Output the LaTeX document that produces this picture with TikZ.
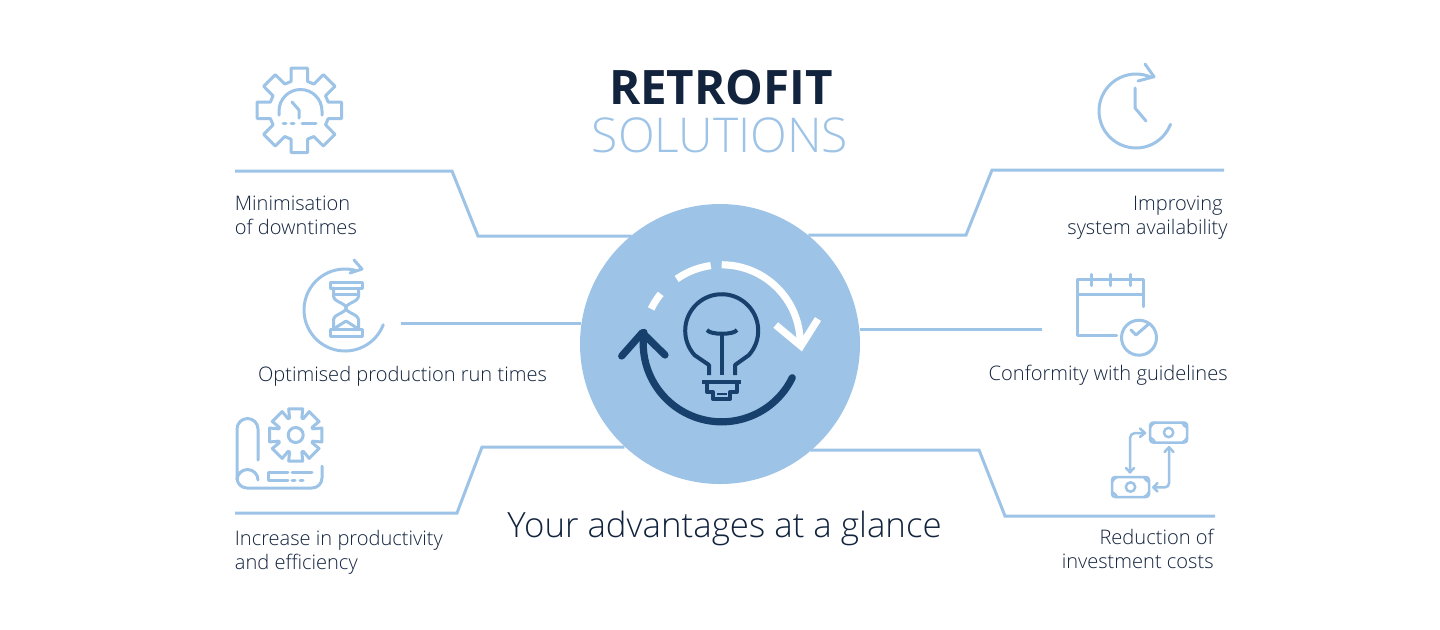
\documentclass[tikz,border=0pt]{standalone}
\usepackage{fontspec}
\setmainfont{Open Sans}
\newfontfamily\lightfont{Open Sans Light}
\usetikzlibrary{positioning,calc}
\definecolor{skyline}{HTML}{9DC3E6}
\definecolor{navyline}{HTML}{17406D}
\definecolor{inktext}{HTML}{12233D}
\tikzstyle{Hub} = [circle, fill=skyline, minimum size=140pt, inner sep=0pt]
\tikzstyle{Link} = [draw=skyline, line width=1.5pt]
\tikzstyle{Icon} = [draw=skyline, line width=1.5pt, line cap=round, line join=round]
\tikzstyle{Note} = [Icon, line width=1.25pt]
\tikzstyle{Bulb} = [draw=navyline, line width=2pt, line join=round]
\tikzstyle{Cycle} = [line width=3.6pt, line join=round]
\tikzstyle{Label} = [font=\lightfont\fontsize{10.03}{12}\selectfont, text=inktext, inner sep=0pt]
\newcommand{\gearicon}[6]{% centre x, y, outer, root, tip angle, root angle
  \draw[Icon, shift={(#1,#2)}] (-#6:#4) foreach \a in {0,45,...,315} {
      -- (\a-#6:#4) -- (\a-#5:#3) -- (\a+#5:#3) -- (\a+#6:#4)
    } -- cycle;
}
\newcommand{\billicon}[2]{% centre x, y
  \draw[Note, rounded corners=1.5pt] (#1-18.5,#2-10) rectangle (#1+18.5,#2+10);
  \draw[Note] (#1,#2) circle (4.7);
  \foreach \sx/\sy in {-1/-1,1/-1,1/1,-1/1}
    \draw[Note] (#1+\sx*18.5-\sx*5,#2+\sy*10) to[bend right=20] (#1+\sx*18.5,#2+\sy*10-\sy*5);
}

\begin{document}
\begin{tikzpicture}[x=0.5pt, y=-0.5pt]
  \useasboundingbox (0,0) rectangle (1440,629);

  \node[Hub] (hub) at (720,344) {};

  % titles
  \node[font=\fontsize{23.75}{28}\selectfont\bfseries, text=inktext, inner sep=0pt] (title) at (721,87) {RETROFIT};
  \node[font=\lightfont\fontsize{24}{28}\selectfont, text=skyline, inner sep=0pt] (subtitle) at (720,135) {SOLUTIONS};
  \node[font=\lightfont\fontsize{17.4}{20}\selectfont, text=inktext, inner sep=0pt] (glance) at (724.5,528) {Your advantages at a glance};

  % connectors
  \coordinate (startA) at (235,171);
  \coordinate (kneeA)  at (452,171);
  \coordinate (elbowA) at (478,236);
  \coordinate (startB) at (1224,170);
  \coordinate (kneeB)  at (992,170);
  \coordinate (elbowB) at (966,235);
  \coordinate (startC) at (401,323.5);
  \coordinate (startD) at (1042,329);
  \coordinate (startE) at (235,513);
  \coordinate (kneeE)  at (457,513);
  \coordinate (elbowE) at (482,447);
  \coordinate (startF) at (1215,516);
  \coordinate (kneeF)  at (1005,516);
  \coordinate (elbowF) at (979,450);
  \draw[Link] (startA) -- (kneeA) -- (elbowA) -- (elbowA -| hub.129);
  \draw[Link] (startB) -- (kneeB) -- (elbowB) -- (elbowB -| hub.51);
  \draw[Link] (startC) -- (startC -| hub.172);
  \draw[Link] (startD) -- (startD -| hub.6);
  \draw[Link] (startE) -- (kneeE) -- (elbowE) -- (elbowE -| hub.-133);
  \draw[Link] (startF) -- (kneeF) -- (elbowF) -- (elbowF -| hub.-50);

  % labels
  \node[Label, anchor=north west, align=left]  (downtimes)    at (234.5,195.5) {Minimisation\\of downtimes};
  \node[Label, anchor=north east, align=right] (availability) at (1228,195.5) {Improving\kern2.5pt\\system availability};
  \node[Label, anchor=north]                   (runtimes)     at (402.5,365.5) {Optimised production run times};
  \node[Label, anchor=north east]              (guidelines)   at (1228,365) {Conformity with guidelines};
  \node[Label, anchor=north west, align=left]  (productivity) at (234.5,529.5) {Increase in productivity\\and efficiency};
  \node[Label, anchor=north east, align=right] (costs)        at (1214,528.5) {Reduction of\\investment costs};

  % gauge gear
  \gearicon{299.3}{110.3}{43}{30}{11}{16}
  \draw[Icon] (279,115) -- (279,111) arc[start angle=180, end angle=360, radius=21.5] -- (322,115);
  \draw[Icon] (292,102) -- (299,110) -- (299,118);
  \draw[Icon] (283,123) -- (286,123) (291,123) -- (294,123) (302,123) -- (316,123);

  % hourglass
  \draw[Icon] (345,310) ++(285:41) arc[start angle=285, end angle=21, radius=41];
  \draw[Icon] (354,260) -- (362,269) -- (350,273);
  \draw[Icon, line cap=butt] (330,282) rectangle (362,288) (330,329) rectangle (362,336);
  \draw[Icon] (333.5,288) -- (333.5,296) .. controls (333.5,302) and (346,303) .. (346,308)
    .. controls (346,303) and (358.5,302) .. (358.5,296) -- (358.5,288);
  \draw[Icon] (333.5,329) -- (333.5,320) .. controls (333.5,314) and (346,313) .. (346,308)
    .. controls (346,313) and (358.5,314) .. (358.5,320) -- (358.5,329);
  \draw[Icon] (333.5,294) -- (358.5,294);
  \draw[Icon] (333.5,329) -- (346,321) -- (358.5,329);

  % blueprint
  \draw[Icon] (258,460) -- (258,429) arc[start angle=0, end angle=-180, radius=10.5] -- (237,478)
    arc[start angle=180, end angle=90, radius=10] -- (312,488) arc[start angle=90, end angle=0, radius=10] -- (322,466);
  \draw[Icon] (237,480) arc[start angle=180, end angle=360, radius=10.5];
  \draw[Icon] (288,472) -- (268,472) -- (268,480) -- (288,480);
  \draw[Icon] (292,472) -- (312,472) (292,480) -- (295,480) (300,480) -- (303,480);
  \gearicon{295.7}{435}{27}{18}{15}{20}
  \draw[Icon] (295.7,435) circle (7.5);

  % clock
  \draw[Icon] (1136,111) ++(295:37) arc[start angle=295, end angle=21, radius=37];
  \draw[Icon] (1145,64) -- (1154,76.7) -- (1138,81);
  \draw[Icon] (1135,88) -- (1135,108) -- (1146,121);

  % calendar
  \draw[Icon] (1116.7,335) -- (1077.3,335) -- (1077.3,279) -- (1143.3,279) -- (1143.3,306.7);
  \draw[Icon] (1077.3,294.3) -- (1143.3,294.3);
  \foreach \tickx in {1091,1110,1130.7}
    \draw[Icon] (\tickx,274.3) -- (\tickx,285.7);
  \draw[Icon] (1139,337.7) circle (17.5);
  \draw[Icon] (1131,330) -- (1136,335) -- (1148.3,324.3);

  % banknotes
  \billicon{1168.6}{432.5}
  \billicon{1130.5}{487}
  \draw[Note] (1130,472.3) -- (1130,438) arc[start angle=180, end angle=270, radius=5] -- (1145,433);
  \draw[Note] (1126,468) -- (1130,472.3) -- (1134,468) (1140,428.5) -- (1145,433) -- (1140,437);
  \draw[Note] (1153.3,487.3) -- (1165,487.3) arc[start angle=90, end angle=0, radius=4] -- (1169,447.3);
  \draw[Note] (1157.5,483) -- (1153.3,487.3) -- (1157.5,491.5) (1164.5,452) -- (1169,447.3) -- (1173.5,452);

  % bulb
  \draw[Bulb] (735,375) -- (735,365) -- ($(721.7,330.7)+(42:36.5)$)
    arc[start angle=42, end angle=-222, radius=36.5] -- (709,365) -- (709,375);
  \draw[Bulb] (722,335) -- (722,375);
  \draw[Bulb] (707,330) .. controls (710,335) and (734,335) .. (737,330);
  \draw[Bulb] (702,382) -- (741,382);
  \draw[Bulb] (707,383) -- (707,392) -- (713,392) -- (713,399) -- (730,399) -- (730,392) -- (737,392) -- (737,383);
  \draw[Bulb, line width=1.3pt] (717,394) -- (727,394);

  % cycle arrows
  \draw[Cycle, navyline, line cap=round] ($(721.7,343.3)+(26:78.5)$)
    arc[start angle=26, end angle=188, radius=78.5];
  \draw[Cycle, navyline, line cap=round] (621.7,356) -- (642.3,332.7) -- (665,355);
  \draw[Cycle, white] ($(721.7,343.3)+(-90:78.5)$) arc[start angle=-90, end angle=0, radius=78.5];
  \draw[Cycle, white] ($(721.7,343.3)+(-98:78.5)$) arc[start angle=-98, end angle=-125, radius=78.5];
  \draw[Cycle, white] ($(721.7,343.3)+(-141:78.5)$) arc[start angle=-141, end angle=-154, radius=78.5];
  \draw[Cycle, white, line join=miter] (775.7,325) -- (801,346) -- (818,319);
\end{tikzpicture}
\end{document}
